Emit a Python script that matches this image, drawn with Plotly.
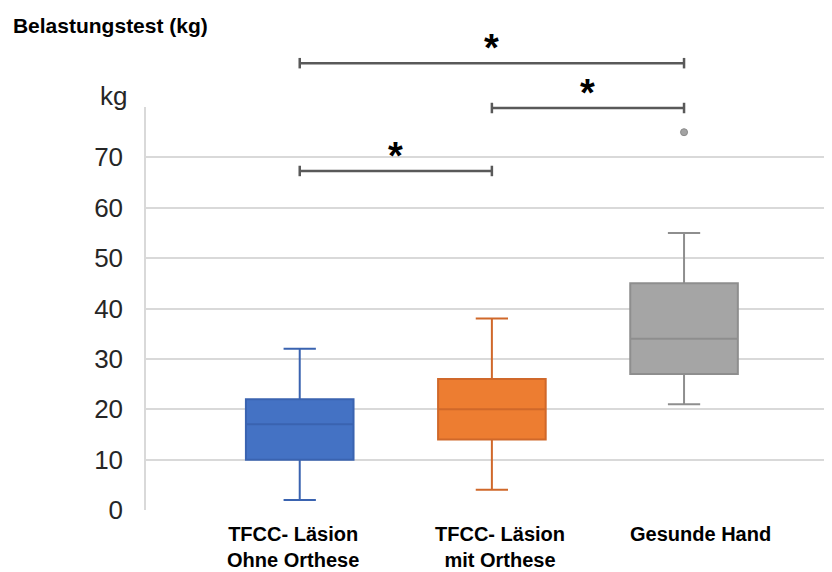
import plotly.graph_objects as go

# ---- data ----
categories = ["TFCC- Läsion<br>Ohne Orthese", "TFCC- Läsion<br>mit Orthese", "Gesunde Hand"]
lower_whisker = [2, 4, 21]
q1 = [10, 14, 27]
median = [17, 20, 34]
q3 = [22, 26, 45]
upper_whisker = [32, 38, 55]
outlier_group = [2]
outlier_value = [75]
y_ticks = [0, 10, 20, 30, 40, 50, 60, 70]
# significance comparisons: (group a, group b, bracket level in kg)
comparisons = [(0, 2, 88.7), (1, 2, 79.8), (0, 1, 67.3)]
sig_label = "*"

YMAX = 80
positions = list(range(len(categories)))
fill_colors = ["#4472C4", "#ED7D31", "#A5A5A5"]
line_colors = ["#3A63B0", "#D0682A", "#8E8E8E"]

fig = go.Figure()
for i, cat in enumerate(categories):
    fig.add_trace(go.Box(
        x=[positions[i]], q1=[q1[i]], median=[median[i]], q3=[q3[i]],
        lowerfence=[lower_whisker[i]], upperfence=[upper_whisker[i]],
        fillcolor=fill_colors[i], line=dict(color=line_colors[i], width=2),
        width=0.56, whiskerwidth=0.3, showlegend=False, name=cat,
    ))

fig.add_trace(go.Scatter(
    x=[positions[g] for g in outlier_group], y=outlier_value, mode="markers",
    marker=dict(color="#A3A3A3", size=7, line=dict(color="#8A8A8A", width=1)),
    showlegend=False, cliponaxis=False,
))

def to_paper(v):
    return v / YMAX

tick_h = 0.013
for a, b, lvl in comparisons:
    yp = to_paper(lvl)
    line = dict(color="#595959", width=2.5)
    fig.add_shape(type="line", xref="x", yref="paper", x0=positions[a], x1=positions[b], y0=yp, y1=yp, line=line)
    for p in (positions[a], positions[b]):
        fig.add_shape(type="line", xref="x", yref="paper", x0=p, x1=p, y0=yp - tick_h, y1=yp + tick_h, line=line)
    fig.add_annotation(x=(positions[a] + positions[b]) / 2, y=yp, xref="x", yref="paper",
                       text="<b>" + sig_label + "</b>", showarrow=False, yanchor="bottom", yshift=-8,
                       font=dict(family="Arial", size=38, color="#000000"))

# category labels
label_shift = [-7, 8, 16]
for i, cat in enumerate(categories):
    fig.add_annotation(x=positions[i], y=0, xref="x", yref="paper", text="<b>" + cat + "</b>",
                       showarrow=False, yanchor="top", yshift=-11, xshift=label_shift[i],
                       font=dict(family="Arial", size=20, color="#000000"), align="center")

fig.add_annotation(x=0, y=1, xref="paper", yref="paper", text="kg", showarrow=False,
                   xanchor="right", yanchor="middle", xshift=-17, yshift=11,
                   font=dict(family="Arial", size=26, color="#262626"))

fig.update_layout(
    width=824, height=564,
    margin=dict(l=138, r=0, t=99, b=62),
    paper_bgcolor="white", plot_bgcolor="white",
    title=dict(text="<b>Belastungstest (kg)</b>", x=0.006, xanchor="left", y=0.968, yanchor="middle",
               font=dict(family="Arial", size=21, color="#000000")),
    xaxis=dict(range=[-0.8, 2.77], showticklabels=False, showgrid=False, zeroline=False,
               showline=False, fixedrange=True),
    yaxis=dict(range=[0, YMAX], tickvals=y_ticks + [YMAX], ticktext=[str(t) for t in y_ticks] + [""],
               showgrid=True, gridcolor="#D9D9D9", gridwidth=1.5, zeroline=False,
               showline=True, linecolor="#D9D9D9", linewidth=1.5,
               ticks="", ticklabelstandoff=16,
               tickfont=dict(family="Arial", size=26, color="#262626")),
)

fig.write_html("out.html")
